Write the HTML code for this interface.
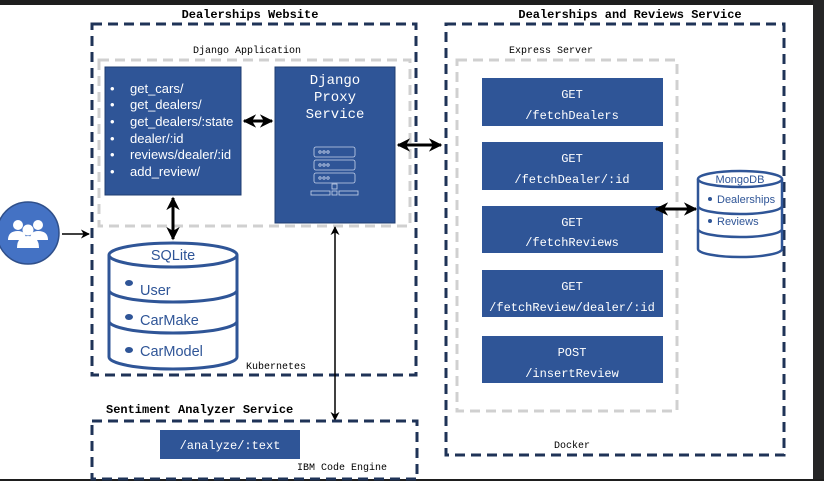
<!DOCTYPE html>
<html><head><meta charset="utf-8"><style>
html,body{margin:0;padding:0;background:#fff}
svg{display:block}
.m{font-family:"Liberation Mono","DejaVu Sans Mono",monospace}
.s{font-family:"Liberation Sans",sans-serif}
</style></head><body>
<svg width="824" height="481" viewBox="0 0 824 481" xmlns="http://www.w3.org/2000/svg">
<defs>
<marker id="a" viewBox="0 0 10 10" refX="9" refY="5" markerWidth="4.5" markerHeight="4.5" orient="auto-start-reverse"><path d="M0,0 L10,5 L0,10 L3,5 z" fill="#000"/></marker>
<marker id="b" viewBox="0 0 10 10" refX="9" refY="5" markerWidth="6" markerHeight="6" orient="auto-start-reverse"><path d="M0,0 L10,5 L0,10 L3,5 z" fill="#000"/></marker>
</defs>
<rect width="824" height="481" fill="#fff"/>
<rect x="0" y="0" width="824" height="5" fill="#1e1e1e"/>
<rect x="813" y="0" width="11" height="481" fill="#252526"/>
<rect x="0" y="479" width="824" height="2" fill="#1e1e1e"/>

<text x="250" y="18" class="m" font-size="12" font-weight="bold" text-anchor="middle">Dealerships Website</text>
<rect x="92" y="24" width="324" height="351" fill="none" stroke="#1f3357" stroke-width="3" stroke-dasharray="10,6"/>
<text x="247" y="53" class="m" font-size="10" text-anchor="middle">Django Application</text>
<rect x="99" y="60" width="311" height="166" fill="none" stroke="#d0d0d0" stroke-width="3" stroke-dasharray="10,6"/>
<rect x="105" y="67" width="136" height="128" fill="#2f5597" stroke="#1f3d70"/>
<g class="s" font-size="13" fill="#fff">
<text x="110" y="93">•</text><text x="130" y="93">get_cars/</text>
<text x="110" y="109">•</text><text x="130" y="109">get_dealers/</text>
<text x="110" y="126">•</text><text x="130" y="126">get_dealers/:state</text>
<text x="110" y="143">•</text><text x="130" y="143">dealer/:id</text>
<text x="110" y="159">•</text><text x="130" y="159">reviews/dealer/:id</text>
<text x="110" y="176">•</text><text x="130" y="176">add_review/</text>
</g>
<rect x="275" y="67" width="120" height="156" fill="#2f5597" stroke="#1f3d70"/>
<g class="m" font-size="14" fill="#fff" text-anchor="middle">
<text x="335" y="84">Django</text><text x="335" y="101">Proxy</text><text x="335" y="118">Service</text>
</g>
<g fill="none" stroke="#c8d4ec" stroke-width="0.8">
<rect x="314" y="147" width="41" height="10" rx="2"/>
<rect x="314" y="160" width="41" height="10" rx="2"/>
<rect x="314" y="173" width="41" height="10" rx="2"/>
<rect x="332" y="184" width="5" height="5"/>
<rect x="311" y="191" width="19" height="4"/><rect x="332" y="191" width="5" height="4"/><rect x="339" y="191" width="19" height="4"/>
<circle cx="320" cy="152" r="1.2"/><circle cx="324" cy="152" r="1.2"/><circle cx="328" cy="152" r="1.2"/>
<circle cx="320" cy="165" r="1.2"/><circle cx="324" cy="165" r="1.2"/><circle cx="328" cy="165" r="1.2"/>
<circle cx="320" cy="178" r="1.2"/><circle cx="324" cy="178" r="1.2"/><circle cx="328" cy="178" r="1.2"/>
</g>
<line x1="244" y1="121" x2="272" y2="121" stroke="#000" stroke-width="3" marker-start="url(#a)" marker-end="url(#a)"/>
<line x1="173" y1="198" x2="173" y2="239" stroke="#000" stroke-width="3" marker-start="url(#a)" marker-end="url(#a)"/>

<g fill="none" stroke="#2f5597" stroke-width="3">
<path d="M109,255 L109,357 A64,12 0 0 0 237,357 L237,255"/>
<ellipse cx="173" cy="255" rx="64" ry="12"/>
<path d="M109,290 A64,12 0 0 0 237,290"/>
<path d="M109,321 A64,12 0 0 0 237,321"/>
</g>
<g class="s" font-size="14.5" fill="#2f5597">
<text x="173" y="260" text-anchor="middle">SQLite</text>
<text x="140" y="295">User</text><text x="140" y="325">CarMake</text><text x="140" y="356">CarModel</text>
</g>
<g fill="#2f5597"><ellipse cx="129" cy="283" rx="4" ry="3"/><ellipse cx="129" cy="317" rx="4" ry="3"/><ellipse cx="129" cy="350" rx="4" ry="3"/></g>
<text x="246" y="369" class="m" font-size="10">Kubernetes</text>

<line x1="398" y1="145" x2="441" y2="145" stroke="#000" stroke-width="3" marker-start="url(#a)" marker-end="url(#a)"/>
<line x1="335" y1="227" x2="335" y2="420" stroke="#000" stroke-width="1.5" marker-start="url(#b)" marker-end="url(#b)"/>

<text x="106" y="413" class="m" font-size="12" font-weight="bold">Sentiment Analyzer Service</text>
<rect x="92" y="421" width="325" height="58" fill="none" stroke="#1f3357" stroke-width="3" stroke-dasharray="10,6"/>
<rect x="160" y="430" width="140" height="29" fill="#2f5597"/>
<text x="230" y="449" class="m" font-size="12" fill="#fff" text-anchor="middle">/analyze/:text</text>
<text x="297" y="470" class="m" font-size="10">IBM Code Engine</text>

<circle cx="28" cy="233" r="31" fill="#4472c4" stroke="#2f4f8a" stroke-width="1.5"/>
<g fill="#fff">
<circle cx="18" cy="225" r="5"/><circle cx="38" cy="225" r="5"/><circle cx="28" cy="230" r="5.5"/>
<path d="M8,240 Q8,231 18,231 Q26,231 26,240 z"/><path d="M30,240 Q30,231 38,231 Q48,231 48,240 z"/>
<path d="M17,248 Q17,236 28,236 Q39,236 39,248 z"/>
</g>
<line x1="62" y1="234" x2="89" y2="234" stroke="#000" stroke-width="1.5" marker-end="url(#b)"/>

<text x="630" y="18" class="m" font-size="12" font-weight="bold" text-anchor="middle">Dealerships and Reviews Service</text>
<rect x="446" y="24" width="338" height="431" fill="none" stroke="#1f3357" stroke-width="3" stroke-dasharray="10,6"/>
<text x="551" y="53" class="m" font-size="10" text-anchor="middle">Express Server</text>
<rect x="457" y="60" width="220" height="351" fill="none" stroke="#d0d0d0" stroke-width="3" stroke-dasharray="10,6"/>
<text x="572" y="448" class="m" font-size="10" text-anchor="middle">Docker</text>
<g class="m" font-size="12" fill="#fff" text-anchor="middle">
<rect x="482" y="78" width="181" height="48" fill="#2f5597"/><text x="572" y="98">GET</text><text x="572" y="119">/fetchDealers</text>
<rect x="482" y="142" width="181" height="48" fill="#2f5597"/><text x="572" y="162">GET</text><text x="572" y="183">/fetchDealer/:id</text>
<rect x="482" y="206" width="181" height="47" fill="#2f5597"/><text x="572" y="226">GET</text><text x="572" y="246">/fetchReviews</text>
<rect x="482" y="270" width="181" height="47" fill="#2f5597"/><text x="572" y="290">GET</text><text x="572" y="311">/fetchReview/dealer/:id</text>
<rect x="482" y="336" width="181" height="47" fill="#2f5597"/><text x="572" y="356">POST</text><text x="572" y="377">/insertReview</text>
</g>
<line x1="656" y1="209" x2="696" y2="209" stroke="#000" stroke-width="3" marker-start="url(#a)" marker-end="url(#a)"/>

<g fill="none" stroke="#2f5597" stroke-width="2.5">
<path d="M698,179 L698,249 A42,8 0 0 0 782,249 L782,179"/>
<ellipse cx="740" cy="179" rx="42" ry="8"/>
<path d="M698,206 A42,8 0 0 0 782,206"/>
<path d="M698,229 A42,8 0 0 0 782,229"/>
</g>
<g class="s" font-size="11" fill="#2f5597">
<text x="740" y="183" text-anchor="middle">MongoDB</text>
<text x="717" y="203">Dealerships</text><text x="717" y="225">Reviews</text>
</g>
<g fill="#2f5597"><circle cx="710" cy="199" r="2"/><circle cx="710" cy="221" r="2"/></g>
</svg>
</body></html>
